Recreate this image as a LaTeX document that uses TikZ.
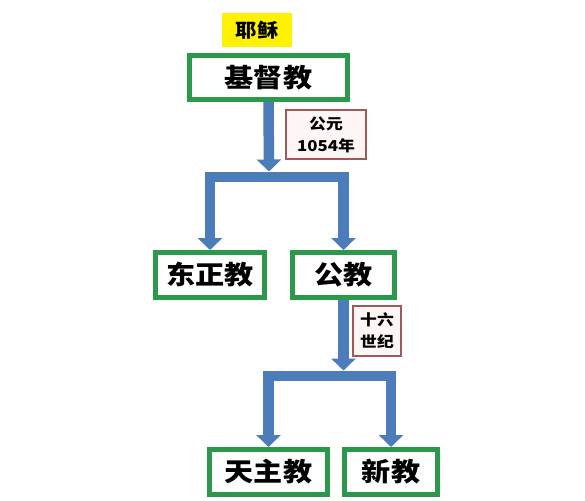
\documentclass[tikz,border=0pt]{standalone}
\usepackage{fontspec}
\newfontfamily\cjk{Noto Sans CJK SC}[FakeStretch=1.12]
\usetikzlibrary{arrows.meta}
\definecolor{boxgreen}{RGB}{44,152,76}
\definecolor{flowblue}{RGB}{76,124,186}
\definecolor{notered}{RGB}{160,88,88}
\definecolor{notefill}{RGB}{253,246,244}
\definecolor{namey}{RGB}{255,242,0}

\begin{document}
\begin{tikzpicture}[x=1pt,y=-1pt,church/.style={rectangle, draw=boxgreen, line width=5pt, fill=white, minimum height=45pt, inner sep=0pt, font=\cjk\bfseries\fontsize{26}{30}\selectfont},note/.style={rectangle, draw=notered, line width=1.6pt, fill=notefill, align=center, inner sep=0pt, font=\cjk\bfseries\fontsize{15}{22}\selectfont},flow/.style={draw=flowblue, line width=10.5pt, line join=miter, -{Triangle[width=24pt,length=12pt]}}]
                \useasboundingbox[fill=white] (0,0) rectangle (585,500);
                \node[fill=namey, minimum width=70pt, minimum height=34pt, inner sep=0pt, font=\cjk\bfseries\fontsize{19}{22}\selectfont] (jesus) at (257,30) {耶稣};
                \node[church, minimum width=158pt, minimum height=44pt] (jdj) at (268.5,77.5) {基督教};
                \node[church, minimum width=109pt] (dzj) at (210,275) {东正教};
                \node[church, minimum width=102pt] (gj) at (343.5,275) {公教};
                \node[church, minimum width=118pt] (tzj) at (268.5,472) {天主教};
                \node[church, minimum width=93pt] (xj) at (391,472) {新教};
                \node[note, minimum width=80pt, minimum height=49pt] (note1) at (326,134.5) {公元\\1054年};
                \node[note, minimum width=48pt, minimum height=50pt] (note2) at (377,331) {十六\\世纪};
                \coordinate (split1) at (269,177);
                \coordinate (split2) at (343.5,376);
                \draw[flow] (jdj.south) -- ([yshift=5.5pt]split1);
                \draw[flow] (split1) -| (dzj.north);
                \draw[flow] (split1) -| (gj.north);
                \draw[flow] (gj.south) -- ([yshift=5.5pt]split2);
                \draw[flow] (split2) -| (tzj.north);
                \draw[flow] (split2) -| (xj.north);
            \end{tikzpicture}
\end{document}
